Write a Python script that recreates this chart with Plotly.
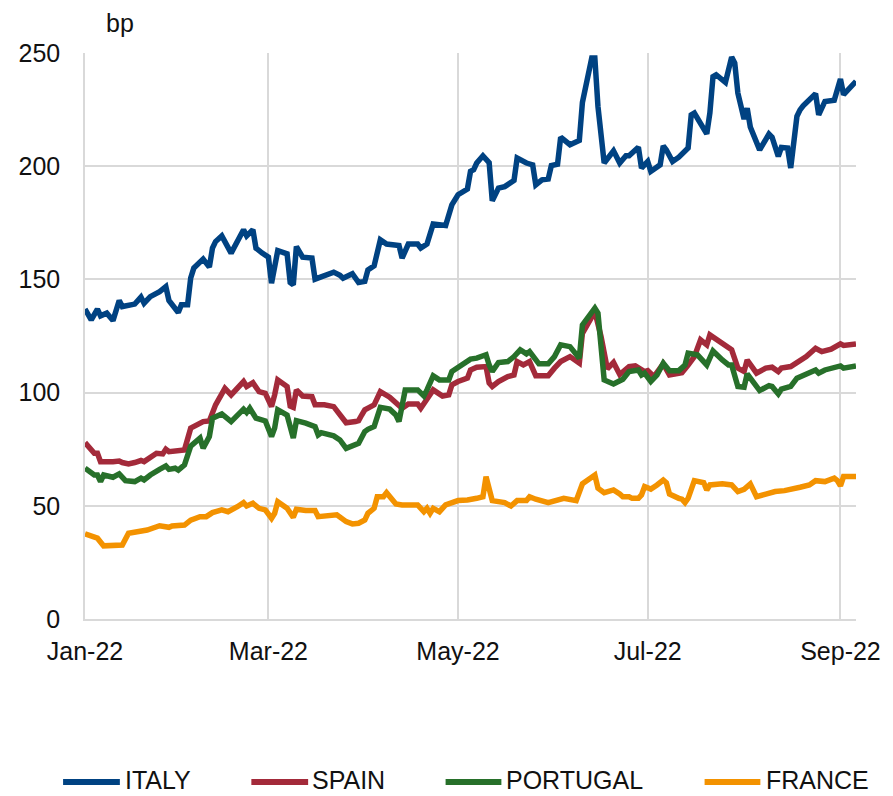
import plotly.graph_objects as go

# ---------------- data (bp) ----------------
ITALY_DATES = ["2022-01-01","2022-01-03","2022-01-05","2022-01-06","2022-01-08","2022-01-10","2022-01-12","2022-01-13","2022-01-17","2022-01-19","2022-01-20","2022-01-22","2022-01-25","2022-01-27","2022-01-28","2022-01-31","2022-02-01","2022-02-03","2022-02-04","2022-02-05","2022-02-08","2022-02-10","2022-02-11","2022-02-12","2022-02-14","2022-02-17","2022-02-21","2022-02-22","2022-02-24","2022-02-25","2022-02-27","2022-03-01","2022-03-02","2022-03-04","2022-03-07","2022-03-08","2022-03-09","2022-03-10","2022-03-12","2022-03-15","2022-03-16","2022-03-18","2022-03-20","2022-03-22","2022-03-24","2022-03-25","2022-03-28","2022-03-30","2022-04-01","2022-04-02","2022-04-04","2022-04-06","2022-04-08","2022-04-12","2022-04-13","2022-04-15","2022-04-18","2022-04-19","2022-04-21","2022-04-23","2022-04-27","2022-04-29","2022-05-01","2022-05-04","2022-05-05","2022-05-06","2022-05-07","2022-05-09","2022-05-11","2022-05-12","2022-05-14","2022-05-16","2022-05-19","2022-05-20","2022-05-23","2022-05-25","2022-05-26","2022-05-28","2022-05-30","2022-05-31","2022-06-02","2022-06-03","2022-06-06","2022-06-09","2022-06-10","2022-06-11","2022-06-13","2022-06-14","2022-06-15","2022-06-17","2022-06-20","2022-06-22","2022-06-24","2022-06-25","2022-06-28","2022-06-29","2022-07-01","2022-07-02","2022-07-05","2022-07-06","2022-07-07","2022-07-09","2022-07-11","2022-07-14","2022-07-15","2022-07-16","2022-07-20","2022-07-21","2022-07-22","2022-07-23","2022-07-26","2022-07-28","2022-07-29","2022-07-30","2022-08-01","2022-08-02","2022-08-03","2022-08-06","2022-08-09","2022-08-10","2022-08-12","2022-08-13","2022-08-15","2022-08-16","2022-08-18","2022-08-19","2022-08-20","2022-08-24","2022-08-25","2022-08-27","2022-08-30","2022-09-01","2022-09-02","2022-09-06"]
ITALY = [136.9,132.1,136.9,133.9,135.1,131.8,140.7,138.0,139.1,142.2,139.5,142.4,144.6,146.8,140.7,135.4,138.8,138.8,150.6,155.0,159.0,155.4,163.8,166.7,169.2,161.6,171.9,169.2,171.9,163.8,161.6,159.8,148.3,162.7,161.3,148.6,147.6,164.5,159.8,159.4,150.1,151.3,152.0,153.2,151.8,150.5,152.5,148.6,149.1,154.2,156.0,167.5,165.6,165.0,159.4,165.6,165.6,163.8,165.6,174.5,173.8,182.9,187.4,189.9,197.7,198.4,201.4,204.6,201.6,184.7,190.3,191.0,193.7,203.6,201.4,200.6,191.8,194.0,194.3,200.3,200.9,212.8,209.5,211.4,228.2,235.5,247.8,247.8,226.4,201.4,206.8,201.4,204.6,204.6,208.4,199.2,202.1,197.7,200.6,209.0,207.2,202.1,204.0,208.0,222.7,223.5,214.3,223.5,239.6,240.4,237.0,248.2,245.6,232.3,220.8,225.6,217.3,207.2,214.2,212.8,204.3,208.3,208.0,199.2,222.0,224.9,226.7,232.0,222.7,228.6,229.1,238.5,231.6,237.5]

SPAIN_DATES = ["2022-01-01","2022-01-04","2022-01-05","2022-01-06","2022-01-10","2022-01-12","2022-01-13","2022-01-15","2022-01-17","2022-01-19","2022-01-20","2022-01-22","2022-01-24","2022-01-26","2022-01-27","2022-01-28","2022-01-30","2022-02-02","2022-02-04","2022-02-06","2022-02-08","2022-02-10","2022-02-12","2022-02-15","2022-02-17","2022-02-21","2022-02-22","2022-02-24","2022-02-26","2022-02-28","2022-03-02","2022-03-03","2022-03-04","2022-03-07","2022-03-08","2022-03-09","2022-03-10","2022-03-12","2022-03-15","2022-03-16","2022-03-19","2022-03-22","2022-03-26","2022-03-29","2022-03-30","2022-03-31","2022-04-01","2022-04-04","2022-04-06","2022-04-09","2022-04-13","2022-04-15","2022-04-18","2022-04-19","2022-04-21","2022-04-23","2022-04-26","2022-04-28","2022-04-29","2022-05-01","2022-05-04","2022-05-05","2022-05-07","2022-05-10","2022-05-11","2022-05-12","2022-05-14","2022-05-17","2022-05-19","2022-05-20","2022-05-22","2022-05-24","2022-05-26","2022-05-30","2022-06-01","2022-06-03","2022-06-06","2022-06-08","2022-06-09","2022-06-10","2022-06-14","2022-06-16","2022-06-18","2022-06-20","2022-06-22","2022-06-25","2022-06-27","2022-06-30","2022-07-01","2022-07-03","2022-07-06","2022-07-08","2022-07-12","2022-07-14","2022-07-16","2022-07-18","2022-07-20","2022-07-21","2022-07-25","2022-07-27","2022-07-28","2022-07-30","2022-08-01","2022-08-02","2022-08-05","2022-08-08","2022-08-10","2022-08-12","2022-08-13","2022-08-16","2022-08-19","2022-08-21","2022-08-24","2022-08-26","2022-08-29","2022-09-01","2022-09-02","2022-09-06"]
SPAIN = [77.9,73.2,73.2,69.5,69.5,69.8,69.1,68.5,69.1,70.0,69.5,71.7,73.2,72.9,75.0,73.9,74.4,74.7,84.3,85.7,87.2,87.5,94.6,101.9,99.0,104.9,102.7,104.4,100.4,99.7,93.8,99.0,105.6,102.7,94.1,93.5,101.2,98.5,98.2,94.6,94.6,93.8,86.7,87.2,87.6,90.1,92.4,94.6,100.4,98.0,93.1,95.0,95.0,93.1,96.8,101.2,98.5,99.0,103.4,104.9,106.4,110.0,111.2,111.5,104.2,102.7,104.9,107.1,107.8,113.7,112.2,113.7,107.4,107.4,110.8,113.7,115.9,114.1,113.0,126.2,135.8,124.7,110.5,113.3,108.0,111.5,111.8,109.3,109.7,107.1,112.7,107.8,108.8,112.2,115.9,123.3,121.1,125.5,121.8,120.3,118.9,110.8,109.3,114.4,108.6,110.8,111.2,109.3,110.8,111.5,114.4,115.9,119.6,118.1,119.2,121.5,120.8,121.5]

PORTUGAL_DATES = ["2022-01-01","2022-01-04","2022-01-05","2022-01-06","2022-01-07","2022-01-10","2022-01-12","2022-01-14","2022-01-17","2022-01-19","2022-01-20","2022-01-22","2022-01-25","2022-01-27","2022-01-28","2022-01-30","2022-01-31","2022-02-02","2022-02-04","2022-02-06","2022-02-07","2022-02-08","2022-02-10","2022-02-11","2022-02-14","2022-02-17","2022-02-21","2022-02-22","2022-02-23","2022-02-25","2022-02-28","2022-03-02","2022-03-03","2022-03-04","2022-03-07","2022-03-09","2022-03-10","2022-03-13","2022-03-16","2022-03-17","2022-03-18","2022-03-22","2022-03-24","2022-03-26","2022-03-29","2022-03-30","2022-04-01","2022-04-02","2022-04-04","2022-04-06","2022-04-09","2022-04-11","2022-04-12","2022-04-14","2022-04-18","2022-04-20","2022-04-21","2022-04-23","2022-04-25","2022-04-28","2022-04-29","2022-05-02","2022-05-05","2022-05-07","2022-05-10","2022-05-11","2022-05-12","2022-05-14","2022-05-17","2022-05-19","2022-05-21","2022-05-23","2022-05-24","2022-05-27","2022-05-30","2022-06-01","2022-06-03","2022-06-06","2022-06-09","2022-06-10","2022-06-14","2022-06-15","2022-06-17","2022-06-20","2022-06-23","2022-06-25","2022-06-28","2022-06-29","2022-06-30","2022-07-02","2022-07-04","2022-07-06","2022-07-08","2022-07-11","2022-07-13","2022-07-14","2022-07-17","2022-07-20","2022-07-22","2022-07-25","2022-07-27","2022-07-28","2022-07-30","2022-08-01","2022-08-02","2022-08-06","2022-08-09","2022-08-10","2022-08-12","2022-08-13","2022-08-16","2022-08-18","2022-08-21","2022-08-24","2022-08-25","2022-08-27","2022-09-01","2022-09-02","2022-09-06"]
PORTUGAL = [66.6,63.6,63.6,60.7,63.6,62.6,64.1,61.1,60.7,62.2,61.4,63.6,66.1,67.6,66.1,66.6,65.8,68.1,76.4,78.4,79.9,75.4,80.6,88.7,90.6,87.2,92.7,91.2,93.1,88.7,87.5,80.6,84.3,92.4,90.1,79.9,87.6,86.5,85.0,81.3,82.3,80.9,79.1,75.4,76.9,77.6,82.8,83.8,85.0,93.5,92.7,90.1,87.2,101.2,101.2,98.5,101.2,107.4,105.6,105.6,109.3,111.8,114.8,115.2,116.7,112.2,109.3,113.3,113.7,115.9,118.9,117.1,118.1,112.7,112.7,115.9,121.1,120.3,115.2,129.9,137.3,135.1,105.6,103.8,105.9,109.3,110.0,107.8,108.6,104.9,107.8,113.0,109.7,109.7,112.2,117.4,116.7,112.2,118.4,114.4,112.2,112.2,102.7,102.4,108.3,100.9,103.1,102.7,99.4,101.5,102.7,106.4,108.1,110.0,108.6,110.0,111.8,110.8,111.8]

FRANCE_DATES = ["2022-01-01","2022-01-05","2022-01-07","2022-01-11","2022-01-13","2022-01-15","2022-01-18","2022-01-21","2022-01-25","2022-01-28","2022-01-29","2022-02-02","2022-02-04","2022-02-07","2022-02-09","2022-02-11","2022-02-14","2022-02-16","2022-02-19","2022-02-21","2022-02-22","2022-02-24","2022-02-26","2022-02-28","2022-03-02","2022-03-03","2022-03-04","2022-03-07","2022-03-09","2022-03-10","2022-03-13","2022-03-16","2022-03-17","2022-03-19","2022-03-23","2022-03-26","2022-03-28","2022-03-30","2022-04-01","2022-04-02","2022-04-04","2022-04-05","2022-04-07","2022-04-08","2022-04-11","2022-04-13","2022-04-18","2022-04-20","2022-04-21","2022-04-22","2022-04-23","2022-04-25","2022-04-27","2022-05-01","2022-05-03","2022-05-04","2022-05-07","2022-05-09","2022-05-10","2022-05-12","2022-05-16","2022-05-18","2022-05-20","2022-05-23","2022-05-24","2022-05-26","2022-05-30","2022-06-02","2022-06-04","2022-06-08","2022-06-10","2022-06-14","2022-06-15","2022-06-17","2022-06-20","2022-06-22","2022-06-23","2022-06-25","2022-06-26","2022-06-28","2022-06-29","2022-06-30","2022-07-02","2022-07-04","2022-07-06","2022-07-07","2022-07-08","2022-07-11","2022-07-12","2022-07-13","2022-07-14","2022-07-16","2022-07-19","2022-07-20","2022-07-21","2022-07-25","2022-07-28","2022-07-30","2022-08-01","2022-08-03","2022-08-05","2022-08-08","2022-08-11","2022-08-14","2022-08-17","2022-08-19","2022-08-22","2022-08-24","2022-08-27","2022-08-30","2022-08-31","2022-09-01","2022-09-02","2022-09-06"]
FRANCE = [37.6,35.7,32.3,32.3,32.7,37.9,38.6,39.3,41.2,40.5,41.1,41.5,43.7,45.2,45.2,47.0,48.2,47.4,49.6,51.4,49.9,51.1,48.9,48.2,44.5,46.7,51.8,48.9,44.9,48.5,47.9,47.9,45.2,45.5,46.0,43.0,42.0,42.3,43.7,46.7,48.9,54.0,54.0,55.8,50.8,50.4,50.4,47.4,48.9,46.7,48.9,47.4,50.4,52.3,52.9,52.6,53.3,54.0,62.9,52.3,51.4,49.9,52.3,52.3,54.0,52.9,51.4,52.9,53.3,52.3,59.7,63.6,57.8,55.8,57.0,55.2,54.0,54.0,53.3,53.3,54.8,58.5,57.4,59.2,61.4,60.2,55.2,53.3,52.9,51.4,53.3,61.1,60.2,57.0,59.2,59.7,59.2,56.3,57.3,59.7,54.0,55.2,56.3,56.7,57.3,58.2,59.2,61.1,60.7,62.2,61.1,58.8,62.9,62.9]

SERIES_NAMES = ["ITALY", "SPAIN", "PORTUGAL", "FRANCE"]
SERIES_COLORS = ["#004282", "#a32a3a", "#27702a", "#f39200"]
Y_TICKS = [0, 50, 100, 150, 200, 250]
X_RANGE = ["2022-01-01", "2022-09-06"]
UNIT_LABEL = "bp"

FONT = "Liberation Sans, Arial, Helvetica, sans-serif"
GRID = "#d9d9d9"

fig = go.Figure()
for name, dates, vals, col in zip(SERIES_NAMES,
                                  [ITALY_DATES, SPAIN_DATES, PORTUGAL_DATES, FRANCE_DATES],
                                  [ITALY, SPAIN, PORTUGAL, FRANCE],
                                  SERIES_COLORS):
    fig.add_trace(go.Scatter(x=dates, y=vals, mode="lines", name=name,
                             line=dict(color=col, width=5.5), showlegend=False))

W, H = 893, 796
L, R, T, B = 85, 34, 53, 177
pw, ph = W - L - R, H - T - B

def px_x(p):
    return (p - L) / pw

def px_y(p):
    return (H - B - p) / ph

# custom legend (line sample + label) below the plot
legend_pos = [(63, 120, 123), (252, 309, 311), (447, 503, 506), (707, 763, 767)]
for name, col, (x0, x1, xt) in zip(SERIES_NAMES, SERIES_COLORS, legend_pos):
    fig.add_shape(type="line", xref="paper", yref="paper",
                  x0=px_x(x0), x1=px_x(x1), y0=px_y(782), y1=px_y(782),
                  line=dict(color=col, width=6))
    fig.add_annotation(text=name, xref="paper", yref="paper", x=px_x(xt), y=px_y(780),
                       xanchor="left", yanchor="middle", showarrow=False,
                       font=dict(family=FONT, size=25, color="#111"))

fig.add_annotation(text=UNIT_LABEL, xref="paper", yref="paper", x=px_x(104), y=px_y(23),
                   xanchor="left", yanchor="middle", showarrow=False,
                   font=dict(family=FONT, size=25, color="#111"))

fig.update_layout(
    width=W, height=H,
    margin=dict(l=L, r=R, t=T, b=B, pad=0),
    paper_bgcolor="white", plot_bgcolor="white",
    font=dict(family=FONT, size=25, color="#111"),
    showlegend=False,
)
fig.update_xaxes(type="date", range=X_RANGE, tick0="2022-01-01", dtick="M2",
                 tickformat="%b-%y", showgrid=True, gridcolor=GRID, gridwidth=1.5,
                 showline=True, linecolor=GRID, linewidth=1.5, ticks="",
                 ticklabelstandoff=9, zeroline=False,
                 tickfont=dict(family=FONT, size=25, color="#111"))
fig.update_yaxes(range=[0, 250], tickvals=Y_TICKS, showgrid=True, gridcolor=GRID,
                 gridwidth=1.5, showline=True, linecolor=GRID, linewidth=1.5,
                 zeroline=False, ticks="", ticklabelstandoff=18,
                 tickfont=dict(family=FONT, size=25, color="#111"))

fig.write_html("out.html", config={"displayModeBar": False},
               post_script="document.body.style.margin='0';document.body.style.overflow='hidden';")
